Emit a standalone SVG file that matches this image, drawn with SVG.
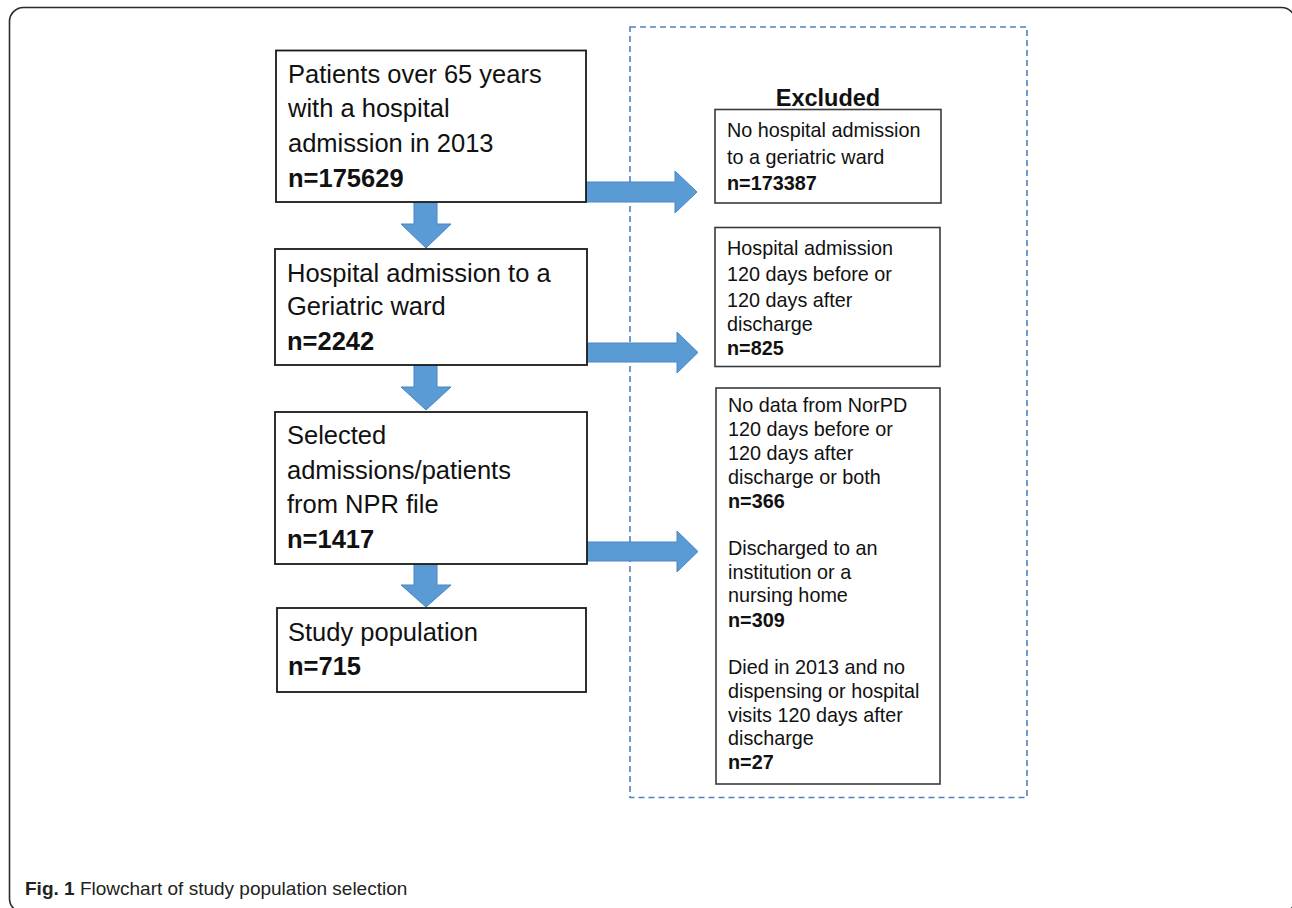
<svg xmlns="http://www.w3.org/2000/svg" width="1292" height="908" viewBox="0 0 1292 908">
<defs>
<style>
.frame{fill:none;stroke:#2b2b2b;stroke-width:1.6}
.box{fill:#fff;stroke:#1a1a1a;stroke-width:1.8}
.xbox{fill:#fff;stroke:#3a3a3a;stroke-width:1.6}
.dash{fill:none;stroke:#4f81bd;stroke-width:1.6;stroke-dasharray:6 4}
.big{fill:#5b9bd5;stroke:#4a86c0;stroke-width:1}
.thin{stroke:#5b9bd5;stroke-width:1.6;fill:none}
.t1{font-family:"Liberation Sans",Arial,sans-serif;font-size:25.5px;fill:#111}
.t2{font-family:"Liberation Sans",Arial,sans-serif;font-size:19.8px;fill:#111}
.ex{font-family:"Liberation Sans",Arial,sans-serif;font-size:23.5px;font-weight:bold;fill:#111}
.b{font-weight:bold}
.cap{font-family:"Liberation Sans",Arial,sans-serif;font-size:19px;fill:#222}
</style>
<marker id="ah" viewBox="0 0 10 10" refX="9" refY="5" markerWidth="9" markerHeight="9" markerUnits="userSpaceOnUse" orient="auto">
<path d="M0,0 L10,5 L0,10 z" fill="#5b9bd5"/>
</marker>
</defs>
<rect width="1292" height="908" fill="#fff"/>
<rect class="frame" x="9.5" y="7.5" width="1286" height="905" rx="14"/>
<rect class="dash" x="630" y="27" width="397" height="770.5"/>

<g id="connectors">
<path class="big" d="M414,202 L437,202 L437,224 L451,224 L426,248 L401,224 L414,224 Z"/>
<path class="big" d="M414,365 L437,365 L437,387 L451,387 L426,410 L401,387 L414,387 Z"/>
<path class="big" d="M414,564 L437,564 L437,585 L451,585 L426,607 L401,585 L414,585 Z"/>
<path class="big" d="M586,182 L675,182 L675,171 L697,192 L675,213 L675,202 L586,202 Z"/>
<path class="big" d="M587,343 L677,343 L677,332 L698,352.5 L677,373 L677,362 L587,362 Z"/>
<path class="big" d="M587,542 L677,542 L677,531 L698,551.5 L677,572 L677,561 L587,561 Z"/>
<line class="thin" x1="812" y1="510" x2="812" y2="538" marker-end="url(#ah)"/>
<line class="thin" x1="812" y1="629" x2="812" y2="652" marker-end="url(#ah)"/>
</g>

<g id="n1">
<rect class="box" x="276" y="50.5" width="310" height="151.5"/>
<text class="t1" x="288" y="83">Patients over 65 years</text>
<text class="t1" x="288" y="117">with a hospital</text>
<text class="t1" x="288" y="152">admission in 2013</text>
<text class="t1 b" x="288" y="187">n=175629</text>
</g>
<g id="n2">
<rect class="box" x="275" y="249" width="312" height="116"/>
<text class="t1" x="287" y="282">Hospital admission to a</text>
<text class="t1" x="287" y="315">Geriatric ward</text>
<text class="t1 b" x="287" y="350">n=2242</text>
</g>
<g id="n3">
<rect class="box" x="275" y="412" width="312" height="152"/>
<text class="t1" x="287" y="444">Selected</text>
<text class="t1" x="287" y="479">admissions/patients</text>
<text class="t1" x="287" y="513">from NPR file</text>
<text class="t1 b" x="287" y="548">n=1417</text>
</g>
<g id="n4">
<rect class="box" x="277" y="608" width="309" height="84"/>
<text class="t1" x="288" y="641">Study population</text>
<text class="t1 b" x="288" y="675">n=715</text>
</g>

<g id="excluded-label">
<text class="ex" x="828" y="106" text-anchor="middle">Excluded</text>
</g>
<g id="x1">
<rect class="xbox" x="715" y="109.5" width="226" height="93.5"/>
<text class="t2" x="727" y="137">No hospital admission</text>
<text class="t2" x="727" y="163.5">to a geriatric ward</text>
<text class="t2 b" x="727" y="190">n=173387</text>
</g>
<g id="x2">
<rect class="xbox" x="715" y="227.5" width="225" height="139"/>
<text class="t2" x="727" y="254.5">Hospital admission</text>
<text class="t2" x="727" y="281">120 days before or</text>
<text class="t2" x="727" y="307">120 days after</text>
<text class="t2" x="727" y="331">discharge</text>
<text class="t2 b" x="727" y="355">n=825</text>
</g>
<g id="x3">
<rect class="xbox" x="716" y="388" width="224" height="396"/>
<text class="t2" x="728" y="412">No data from NorPD</text>
<text class="t2" x="728" y="436">120 days before or</text>
<text class="t2" x="728" y="460">120 days after</text>
<text class="t2" x="728" y="483.5">discharge or both</text>
<text class="t2 b" x="728" y="507.5">n=366</text>
<text class="t2" x="728" y="555">Discharged to an</text>
<text class="t2" x="728" y="578.5">institution or a</text>
<text class="t2" x="728" y="602">nursing home</text>
<text class="t2 b" x="728" y="626.5">n=309</text>
<text class="t2" x="728" y="674">Died in 2013 and no</text>
<text class="t2" x="728" y="698">dispensing or hospital</text>
<text class="t2" x="728" y="721.5">visits 120 days after</text>
<text class="t2" x="728" y="745">discharge</text>
<text class="t2 b" x="728" y="769">n=27</text>
</g>

<g id="caption">
<text class="cap" x="25" y="895"><tspan font-weight="bold">Fig. 1</tspan> Flowchart of study population selection</text>
</g>
</svg>
